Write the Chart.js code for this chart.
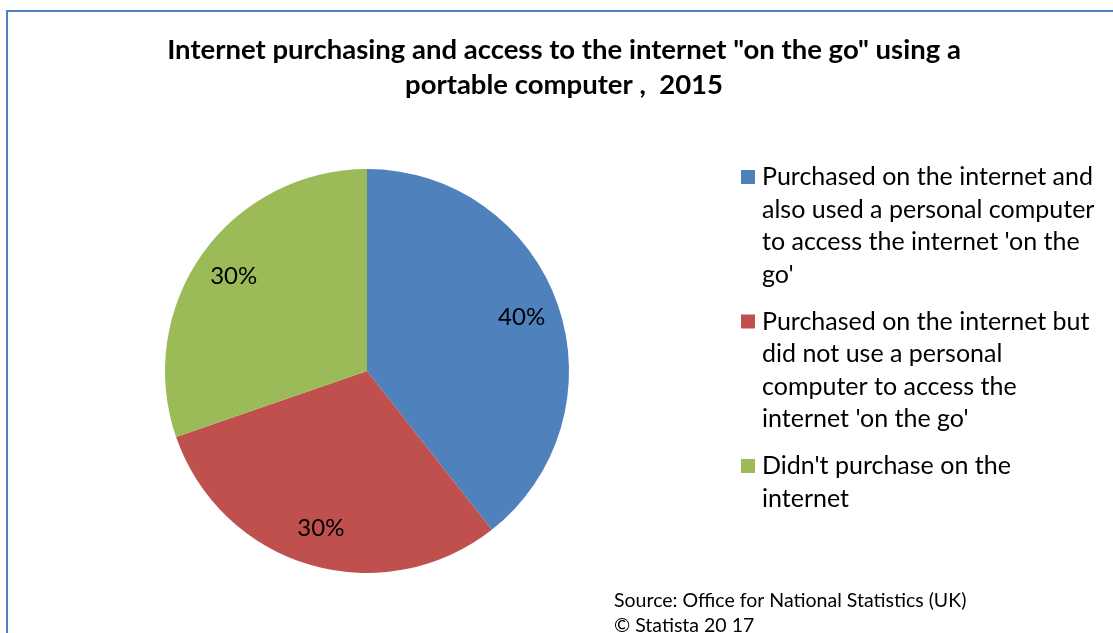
<!DOCTYPE html>
<html>
<head>
<meta charset="utf-8">
<script src="https://cdn.jsdelivr.net/npm/chart.js@4"></script>
<style>
  body { margin: 0; background: #fff; }
  #wrap { width: 1113px; height: 633px; }
</style>
</head>
<body>
<div id="wrap"><canvas id="PieChart" width="1113" height="633"></canvas></div>
<script>
const titleLines = [
  'Internet purchasing and access to the internet "on the go" using a',
  "portable computer ,  2015",
];
const categories = [
  ["Purchased on the internet and", "also used a personal computer", "to access the internet 'on the", "go'"],
  ["Purchased on the internet but", "did not use a personal", "computer to access the", "internet 'on the go'"],
  ["Didn't purchase on the", "internet"],
];
const shares = [39.4, 30.3, 30.3];
const shareLabels = ["40%", "30%", "30%"];
const sliceColors = ["#4F81BD", "#C0504D", "#9BBB59"];
const sourceLines = ["Source: Office for National Statistics (UK)", "\u00A9 Statista 20 17"];

const FONT = "Lato, 'Open Sans', sans-serif";

// title, legend, source note, frame and slice labels
const decor = {
  id: "decor",
  beforeDraw(chart) {
    const ctx = chart.ctx;
    ctx.save();
    ctx.fillStyle = "#fff";
    ctx.fillRect(0, 0, chart.width, chart.height);
    ctx.restore();
  },
  afterDraw(chart) {
    const ctx = chart.ctx;
    ctx.save();

    // frame
    ctx.strokeStyle = "#4F81BD";
    ctx.lineWidth = 2;
    ctx.strokeRect(7, 11, chart.width + 20, chart.height + 20);

    // title
    ctx.fillStyle = "#000";
    ctx.font = "bold 27.5px " + FONT;
    ctx.textAlign = "center";
    ctx.textBaseline = "middle";
    titleLines.forEach(function (t, i) {
      ctx.fillText(t, 564, 50 + i * 35);
    });

    // slice labels
    const meta = chart.getDatasetMeta(0);
    ctx.font = "24px " + FONT;
    meta.data.forEach(function (arc, i) {
      const mid = (arc.startAngle + arc.endAngle) / 2;
      const r = arc.outerRadius * 0.81;
      ctx.fillText(shareLabels[i], arc.x + Math.cos(mid) * r, arc.y + Math.sin(mid) * r);
    });

    // legend
    ctx.textAlign = "left";
    ctx.font = "25px " + FONT;
    let y = 177;
    categories.forEach(function (lines, i) {
      ctx.fillStyle = sliceColors[i];
      ctx.fillRect(741, y - 7, 14, 14);
      ctx.fillStyle = "#000";
      lines.forEach(function (t, j) {
        ctx.fillText(t, 762, y + j * 32.5);
      });
      y += lines.length * 32.5 + 14.5;
    });

    // source
    ctx.font = "19.5px " + FONT;
    sourceLines.forEach(function (t, i) {
      ctx.fillText(t, 614, 601 + i * 25);
    });

    ctx.restore();
  },
};

const ctx = document.getElementById("PieChart");

new Chart(ctx, {
  type: "pie",
  data: {
    labels: categories,
    datasets: [
      {
        data: shares,
        backgroundColor: sliceColors,
        borderWidth: 0,
        hoverOffset: 0,
        offset: 0,
      },
    ],
  },
  options: {
    responsive: false,
    animation: false,
    rotation: 0,
    layout: {
      padding: { left: 165, top: 169, right: 544, bottom: 60 },
    },
    plugins: {
      legend: { display: false },
      title: { display: false },
      tooltip: { enabled: false },
    },
  },
  plugins: [decor],
});
</script>
</body>
</html>
